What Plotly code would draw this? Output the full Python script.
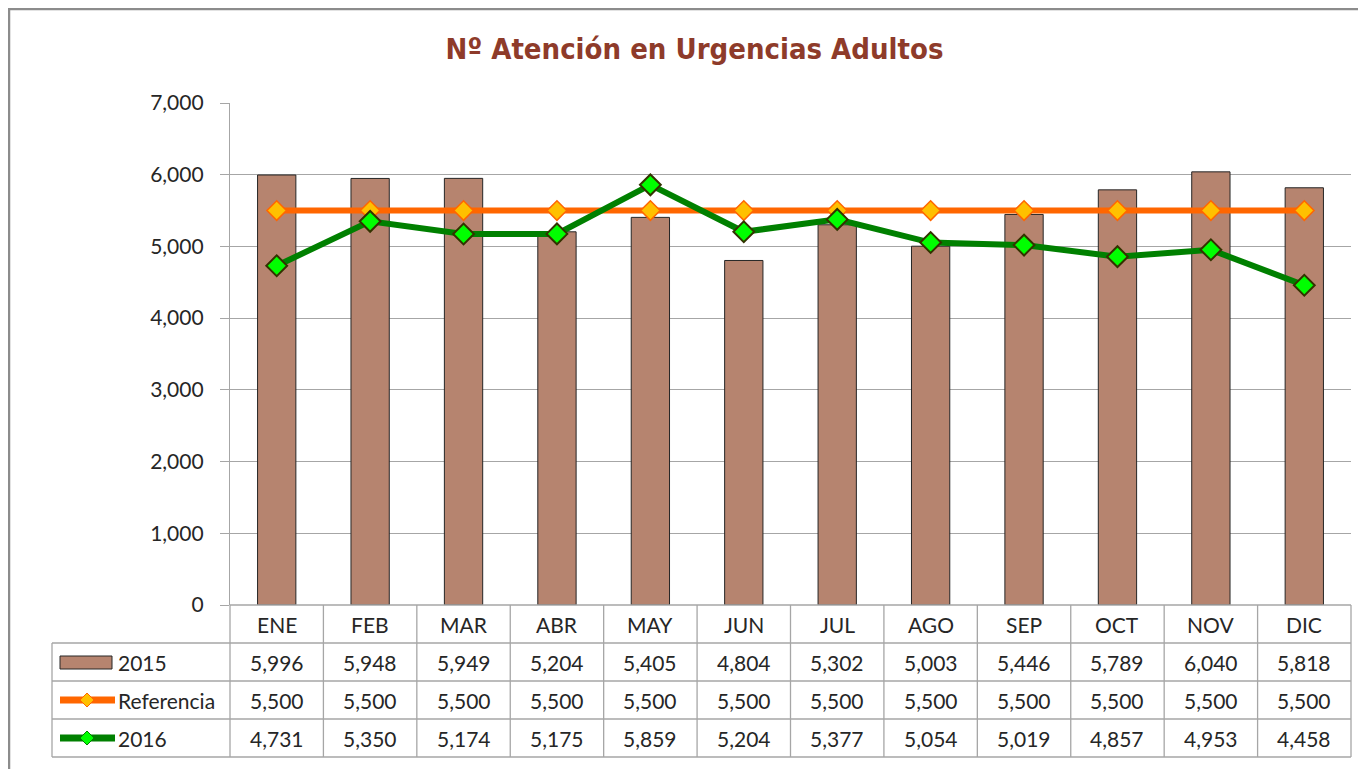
import plotly.graph_objects as go

months = ["ENE", "FEB", "MAR", "ABR", "MAY", "JUN", "JUL", "AGO", "SEP", "OCT", "NOV", "DIC"]
v2015 = [5996, 5948, 5949, 5204, 5405, 4804, 5302, 5003, 5446, 5789, 6040, 5818]
vref = [5500, 5500, 5500, 5500, 5500, 5500, 5500, 5500, 5500, 5500, 5500, 5500]
v2016 = [4731, 5350, 5174, 5175, 5859, 5204, 5377, 5054, 5019, 4857, 4953, 4458]
series_names = ["2015", "Referencia", "2016"]
y_ticks = [0, 1000, 2000, 3000, 4000, 5000, 6000, 7000]

W, H = 1366, 769
OFF = 8  # page body margin
L, T = 230 - OFF, 103 - OFF
R = W - (1351 - OFF)
B = H - (605 - OFF)
PW, PH = W - L - R, H - T - B

BAR = "#B6846F"
ORANGE = "#FF6600"
GOLD = "#FFC000"
GREEN = "#008000"
LIME = "#00FF00"
GRID = "#A6A6A6"
TXT = "#262626"
FONT = "Lato, Noto Sans, sans-serif"


def px(x):
    return (x - OFF - L) / PW


def py(y):
    return (H - B - (y - OFF)) / PH


fig = go.Figure()
fig.add_trace(go.Bar(x=months, y=v2015, name=series_names[0], marker=dict(color=BAR, line=dict(color="#262626", width=1))))
fig.add_trace(go.Scatter(x=months, y=vref, name=series_names[1], mode="lines+markers",
                         line=dict(color=ORANGE, width=6),
                         marker=dict(symbol="diamond", size=15, color=GOLD, line=dict(color=ORANGE, width=1.5))))
fig.add_trace(go.Scatter(x=months, y=v2016, name=series_names[2], mode="lines+markers",
                         line=dict(color=GREEN, width=6),
                         marker=dict(symbol="diamond", size=16, color=LIME, line=dict(color="#333300", width=2))))

shapes = []
annotations = []
lc = dict(color=GRID, width=1.3)
n = len(months)
row_edges = [605, 643, 681, 719, 757]
row_centers = [624, 662, 700, 738]
for i, ye in enumerate(row_edges):
    x0 = 230 if i == 0 else 52
    shapes.append(dict(type="line", xref="paper", yref="paper", x0=px(x0), x1=1, y0=py(ye), y1=py(ye), line=lc))
for i in range(n + 1):
    shapes.append(dict(type="line", xref="paper", yref="paper", x0=i / n, x1=i / n, y0=py(605), y1=py(757), line=lc))
shapes.append(dict(type="line", xref="paper", yref="paper", x0=px(52), x1=px(52), y0=py(643), y1=py(757), line=lc))

for m in months:
    annotations.append(dict(x=m, xref="x", y=py(row_centers[0]), yref="paper", text=m, showarrow=False,
                            font=dict(family=FONT, size=21, color=TXT), yanchor="middle"))
for r, vals in enumerate([v2015, vref, v2016]):
    for m, v in zip(months, vals):
        annotations.append(dict(x=m, xref="x", y=py(row_centers[r + 1]), yref="paper", text=f"{v:,}",
                                showarrow=False, font=dict(family=FONT, size=21, color=TXT), yanchor="middle"))
    annotations.append(dict(x=px(116), xref="paper", y=py(row_centers[r + 1]), yref="paper", text=series_names[r],
                            showarrow=False, xanchor="left", yanchor="middle",
                            font=dict(family=FONT, size=21, color=TXT)))

shapes.append(dict(type="rect", xref="paper", yref="paper", x0=px(60), x1=px(112), y0=py(656), y1=py(669),
                   fillcolor=BAR, line=dict(color="#262626", width=1)))


def diamond(cx, cy, r, fill, edge):
    path = (f"M {px(cx - r)} {py(cy)} L {px(cx)} {py(cy - r)} L {px(cx + r)} {py(cy)} "
            f"L {px(cx)} {py(cy + r)} Z")
    return dict(type="path", xref="paper", yref="paper", path=path, fillcolor=fill, line=dict(color=edge, width=1))


for cy, col, fill, edge in [(700, ORANGE, GOLD, ORANGE), (738, GREEN, LIME, GREEN)]:
    shapes.append(dict(type="line", xref="paper", yref="paper", x0=px(60), x1=px(115), y0=py(cy), y1=py(cy),
                       line=dict(color=col, width=7)))
    shapes.append(diamond(87, cy, 7, fill, edge))

# outer frame (as close to the page origin as possible)
shapes.append(dict(type="rect", xref="paper", yref="paper", x0=px(OFF + 1), x1=px(1380), y0=py(OFF + 1), y1=py(790),
                   line=dict(color="#8C8C8C", width=2.5), fillcolor="rgba(0,0,0,0)"))

fig.update_layout(
    width=W, height=H,
    margin=dict(l=L, r=R, t=T, b=B, autoexpand=False),
    paper_bgcolor="white", plot_bgcolor="white",
    showlegend=False, bargap=0.59, hovermode=False,
    title=dict(text="<b>Nº Atención en Urgencias Adultos</b>", x=(694.5 - OFF) / W, xanchor="center",
               y=1 - (49 - OFF) / H, yanchor="middle",
               font=dict(family="DejaVu Sans Condensed, Liberation Sans Narrow, sans-serif", size=29,
                         color="#8E3B2A")),
    xaxis=dict(type="category", range=[-0.5, n - 0.5], showticklabels=False, showgrid=False, ticks="",
               showline=False, zeroline=False),
    yaxis=dict(range=[0, 7000], tickvals=y_ticks, tickformat=",", showgrid=True, gridcolor=GRID, gridwidth=1.3,
               ticks="outside", ticklen=9, tickcolor=GRID, tickwidth=1.3, showline=True, linecolor=GRID,
               linewidth=1.3, zeroline=False, ticklabelstandoff=12,
               tickfont=dict(family=FONT, size=21, color=TXT)),
    shapes=shapes, annotations=annotations,
)

fig.write_html("out.html")
